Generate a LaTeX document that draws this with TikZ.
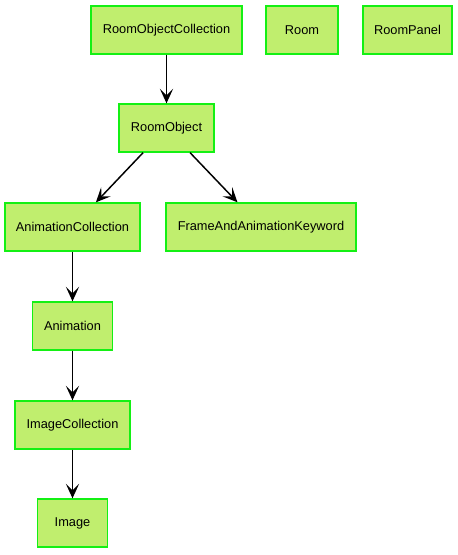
\documentclass[tikz,border=0pt]{standalone}
\usepackage{fontspec}
\setmainfont{Liberation Sans}
\usetikzlibrary{arrows.meta}
\definecolor{boxfill}{RGB}{192,238,110}
\definecolor{boxline}{RGB}{20,240,20}
\begin{document}
\begin{tikzpicture}[x=0.75pt,y=-0.75pt,
  cls/.style={draw=boxline,fill=boxfill,line width=1pt,inner sep=0pt,font=\fontsize{9.6}{11}\selectfont},
  link/.style={draw=black,line width=1.1pt,-{Stealth[inset=5pt,length=11pt,width=10pt]}}]
\useasboundingbox (0,0) rectangle (457,555);
\fill[white] (0,0) rectangle (457,555);
\newcommand{\cbox}[6]{\node[cls,minimum width={(#4-#2)*0.75pt},minimum height={(#5-#3)*0.75pt}] (#1) at ({(#2+#4)/2},{(#3+#5)/2}) {#6};}
\cbox{roc}{91}{6}{242}{54}{RoomObjectCollection}
\cbox{room}{266}{6}{338}{54}{Room}
\cbox{rp}{363}{6}{452}{54}{RoomPanel}
\cbox{ro}{119}{104}{214}{152}{RoomObject}
\cbox{ac}{5}{203}{140}{251}{AnimationCollection}
\cbox{fak}{166}{203}{356}{251}{FrameAndAnimationKeyword}
\cbox{an}{32.5}{302}{112.5}{350}{Animation}
\cbox{ic}{15}{401}{130}{449}{ImageCollection}
\cbox{im}{37.5}{499}{107.5}{547}{Image}
\draw[link] (roc) -- (ro);
\draw[link] (ro) -- (ac);
\draw[link] (ro) -- (fak);
\draw[link] (ac) -- (an);
\draw[link] (an) -- (ic);
\draw[link] (ic) -- (im);
\end{tikzpicture}
\end{document}
